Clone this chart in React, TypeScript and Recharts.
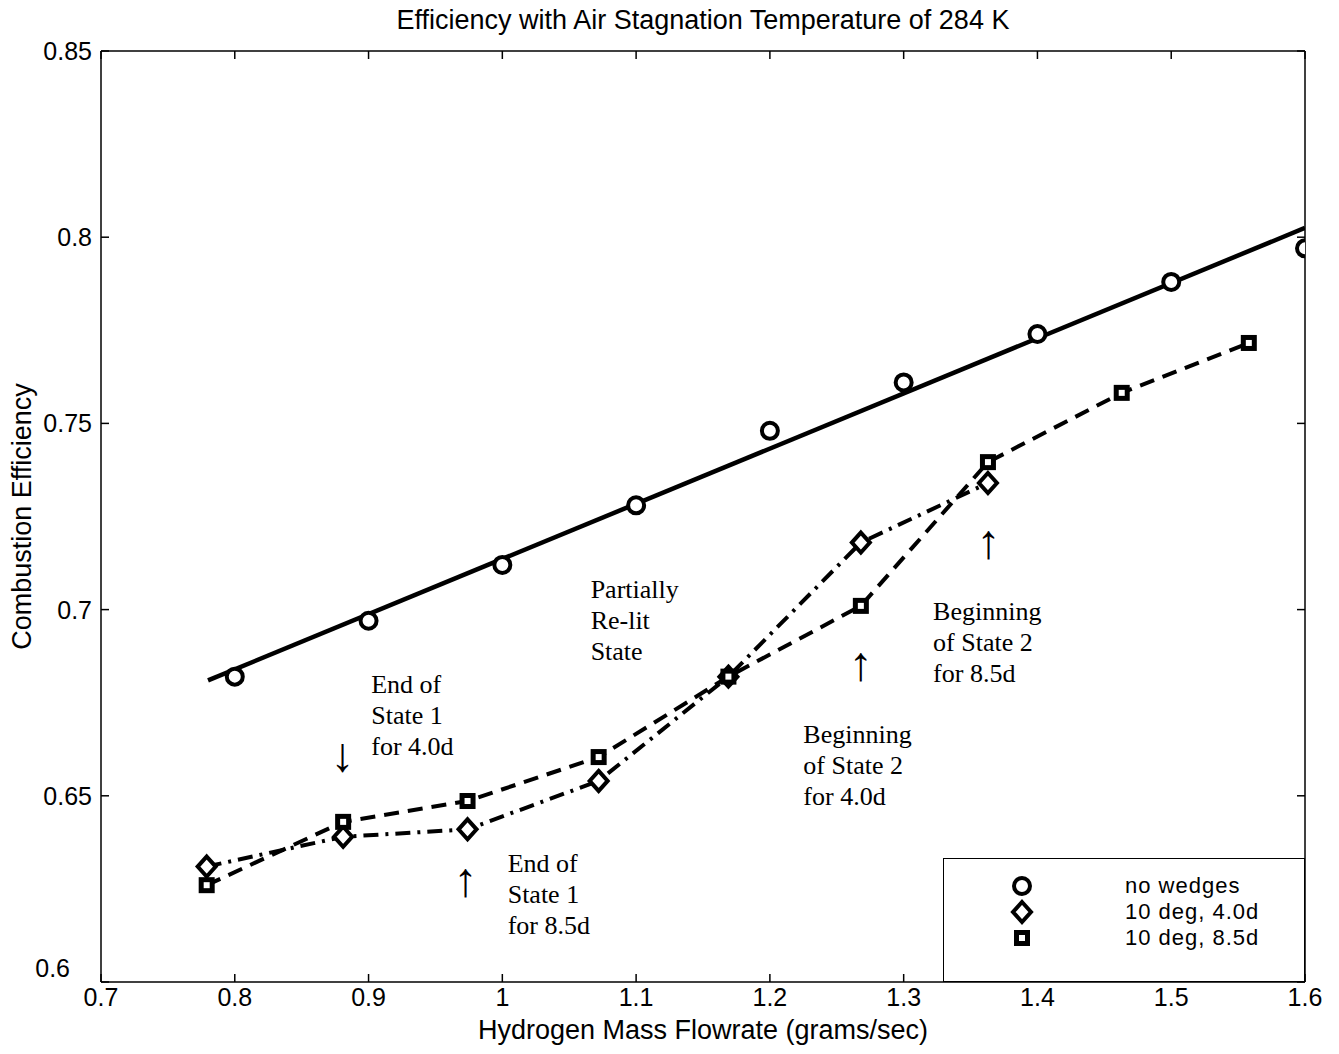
import React from "react";
import { LineChart, Line, XAxis, YAxis, Legend, ReferenceDot, Label } from "recharts";

// axis ticks
const ticksX = [0.7, 0.8, 0.9, 1.0, 1.1, 1.2, 1.3, 1.4, 1.5, 1.6];
const ticksY = [0.6, 0.65, 0.7, 0.75, 0.8, 0.85];

// no wedges (measured points)
const noWedgeX = [0.8, 0.9, 1.0, 1.1, 1.2, 1.3, 1.4, 1.5, 1.6];
const noWedgeY = [0.682, 0.697, 0.712, 0.728, 0.748, 0.761, 0.774, 0.788, 0.797];

// straight fit through the no-wedge points
const fitX = [0.78, 1.6];
const fitY = [0.681, 0.8025];

// 10 deg, 4.0d
const deg40X = [0.779, 0.881, 0.974, 1.072, 1.169, 1.268, 1.363];
const deg40Y = [0.631, 0.639, 0.641, 0.654, 0.682, 0.718, 0.734];

// 10 deg, 8.5d
const deg85X = [0.779, 0.881, 0.974, 1.072, 1.169, 1.268, 1.363, 1.463, 1.558];
const deg85Y = [0.626, 0.643, 0.6486, 0.6604, 0.682, 0.701, 0.7396, 0.7582, 0.7716];

const legendNames = ["no wedges", "10 deg, 4.0d", "10 deg, 8.5d"];

// notes on the plot (data coords of first line's left edge)
const notes = [
  { x: 1.066, y: 0.7055, lines: ["Partially", "Re-lit", "State"] },
  { x: 0.902, y: 0.68, lines: ["End of", "State 1", "for 4.0d"] },
  { x: 1.004, y: 0.632, lines: ["End of", "State 1", "for 8.5d"] },
  { x: 1.225, y: 0.6666, lines: ["Beginning", "of State 2", "for 4.0d"] },
  { x: 1.322, y: 0.6996, lines: ["Beginning", "of State 2", "for 8.5d"] },
];

const arrows = [
  { x: 0.8806, y: 0.661, ch: "↓" },
  { x: 0.9724, y: 0.6274, ch: "↑" },
  { x: 1.2679, y: 0.6854, ch: "↑" },
  { x: 1.3634, y: 0.7182, ch: "↑" },
];

const zip = (xs: number[], ys: number[]) => xs.map((x, i) => ({ x, y: ys[i] }));

const sans = "'Liberation Sans', Arial, Helvetica, sans-serif";
const serif = "'Liberation Serif', 'Times New Roman', serif";

const Circle = ({ cx, cy }: any) => (
  <circle cx={cx} cy={cy} r={8} fill="#fff" stroke="#000" strokeWidth={4} />
);
const Diamond = ({ cx, cy }: any) => (
  <path
    d={`M${cx},${cy - 10}L${cx + 9},${cy}L${cx},${cy + 10}L${cx - 9},${cy}Z`}
    fill="#fff"
    stroke="#000"
    strokeWidth={4}
  />
);
const Square = ({ cx, cy }: any) => (
  <rect x={cx - 5.5} y={cy - 5.5} width={11} height={11} fill="#fff" stroke="#000" strokeWidth={5} />
);

const markers = [Circle, Diamond, Square];

const dotFn = (Shape: any) => (p: any) => <Shape key={p.index} cx={p.cx} cy={p.cy} />;

const LegendBox = () => (
  <div
    style={{
      width: 362,
      height: 124,
      boxSizing: "border-box",
      border: "1.5px solid #000",
      background: "#fff",
      position: "relative",
      fontFamily: sans,
      fontSize: 22,
      letterSpacing: 1,
    }}
  >
    {legendNames.map((name, i) => {
      const M = markers[i];
      return (
        <div
          key={name}
          style={{ position: "absolute", left: 0, top: 14 + i * 26, height: 26, display: "flex", alignItems: "center" }}
        >
          <svg width={160} height={26}>
            <M cx={78} cy={13} />
          </svg>
          <span style={{ marginLeft: 21, lineHeight: "26px" }}>{name}</span>
        </div>
      );
    })}
  </div>
);

const Note = ({ cx, cy, lines }: any) => (
  <text x={cx} y={cy} fontFamily={serif} fontSize={26} fill="#000" dominantBaseline="central">
    {lines.map((l: string, i: number) => (
      <tspan key={i} x={cx} dy={i === 0 ? 0 : 31}>
        {l}
      </tspan>
    ))}
  </text>
);

const Arrow = ({ cx, cy, ch }: any) => (
  <text x={cx} y={cy} fontFamily={serif} fontSize={48} fill="#000" textAnchor="middle" dominantBaseline="central">
    {ch}
  </text>
);

const YTick = ({ x, y, payload }: any) => {
  const low = payload.value === 0.6;
  return (
    <text
      x={low ? x - 22 : x}
      y={low ? y - 14 : y}
      textAnchor="end"
      dominantBaseline="central"
      fontFamily={sans}
      fontSize={25}
      fill="#000"
    >
      {String(payload.value)}
    </text>
  );
};

const YTitle = ({ viewBox }: any) => {
  const x = viewBox.x + 14;
  const y = viewBox.y + viewBox.height / 2;
  return (
    <text
      x={x}
      y={y}
      transform={`rotate(-90, ${x}, ${y})`}
      textAnchor="middle"
      dominantBaseline="central"
      fontFamily={sans}
      fontSize={27}
      fill="#000"
    >
      Combustion Efficiency
    </text>
  );
};

const tickStyle = { fontSize: 25, fill: "#000", fontFamily: sans };

const App = () => {
  return (
    <div style={{ width: 1331, height: 1046, position: "relative" }}>
      <div
        style={{
          position: "absolute",
          left: 93,
          width: 1204,
          top: -4,
          height: 32,
          lineHeight: "32px",
          textAlign: "center",
          fontFamily: sans,
          fontSize: 27,
          color: "#000",
        }}
      >
        Efficiency with Air Stagnation Temperature of 284 K
      </div>
      <LineChart width={1331} height={1046} margin={{ top: 42, right: 33, left: 0, bottom: 0 }}>
        <XAxis
          dataKey="x"
          type="number"
          domain={[0.7, 1.6]}
          ticks={ticksX}
          allowDataOverflow
          height={72}
          stroke="#000"
          strokeWidth={1.5}
          tickSize={-8}
          tickMargin={14}
          tick={tickStyle}
        >
          <Label
            value="Hydrogen Mass Flowrate (grams/sec)"
            position="insideBottom"
            offset={15}
            style={{ fontSize: 27, fill: "#000", fontFamily: sans }}
          />
        </XAxis>
        <XAxis
          xAxisId="top"
          orientation="top"
          dataKey="x"
          type="number"
          domain={[0.7, 1.6]}
          ticks={ticksX}
          allowDataOverflow
          height={1}
          stroke="#000"
          strokeWidth={1.5}
          tickSize={-8}
          tickFormatter={() => ""}
        />
        <YAxis
          type="number"
          domain={[0.6, 0.85]}
          ticks={ticksY}
          allowDataOverflow
          width={93}
          stroke="#000"
          strokeWidth={1.5}
          tickSize={-8}
          tickMargin={17}
          tick={YTick}
        >
          <Label content={YTitle} />
        </YAxis>
        <YAxis
          yAxisId="right"
          orientation="right"
          type="number"
          domain={[0.6, 0.85]}
          ticks={ticksY}
          allowDataOverflow
          width={1}
          stroke="#000"
          strokeWidth={1.5}
          tickSize={-8}
          tickFormatter={() => ""}
        />

        <Line
          data={zip(fitX, fitY)}
          dataKey="y"
          stroke="#000"
          strokeWidth={4.5}
          dot={false}
          activeDot={false}
          isAnimationActive={false}
        />
        <Line
          data={zip(noWedgeX, noWedgeY)}
          dataKey="y"
          stroke="none"
          dot={dotFn(Circle)}
          activeDot={false}
          isAnimationActive={false}
        />
        <Line
          data={zip(deg40X, deg40Y)}
          dataKey="y"
          stroke="#000"
          strokeWidth={4}
          strokeDasharray="15 7 3 7"
          dot={dotFn(Diamond)}
          activeDot={false}
          isAnimationActive={false}
        />
        <Line
          data={zip(deg85X, deg85Y)}
          dataKey="y"
          stroke="#000"
          strokeWidth={4}
          strokeDasharray="15 9"
          dot={dotFn(Square)}
          activeDot={false}
          isAnimationActive={false}
        />

        {notes.map((n, i) => (
          <ReferenceDot
            key={"n" + i}
            x={n.x}
            y={n.y}
            r={0}
            shape={(p: any) => <Note cx={p.cx} cy={p.cy} lines={n.lines} />}
          />
        ))}
        {arrows.map((a, i) => (
          <ReferenceDot
            key={"a" + i}
            x={a.x}
            y={a.y}
            r={0}
            shape={(p: any) => <Arrow cx={p.cx} cy={p.cy} ch={a.ch} />}
          />
        ))}

        <Legend
          layout="horizontal"
          verticalAlign="middle"
          align="center"
          content={() => <LegendBox />}
          wrapperStyle={{ left: 935, top: 850, width: 362, height: 124 }}
        />
      </LineChart>
    </div>
  );
};

export default App;
